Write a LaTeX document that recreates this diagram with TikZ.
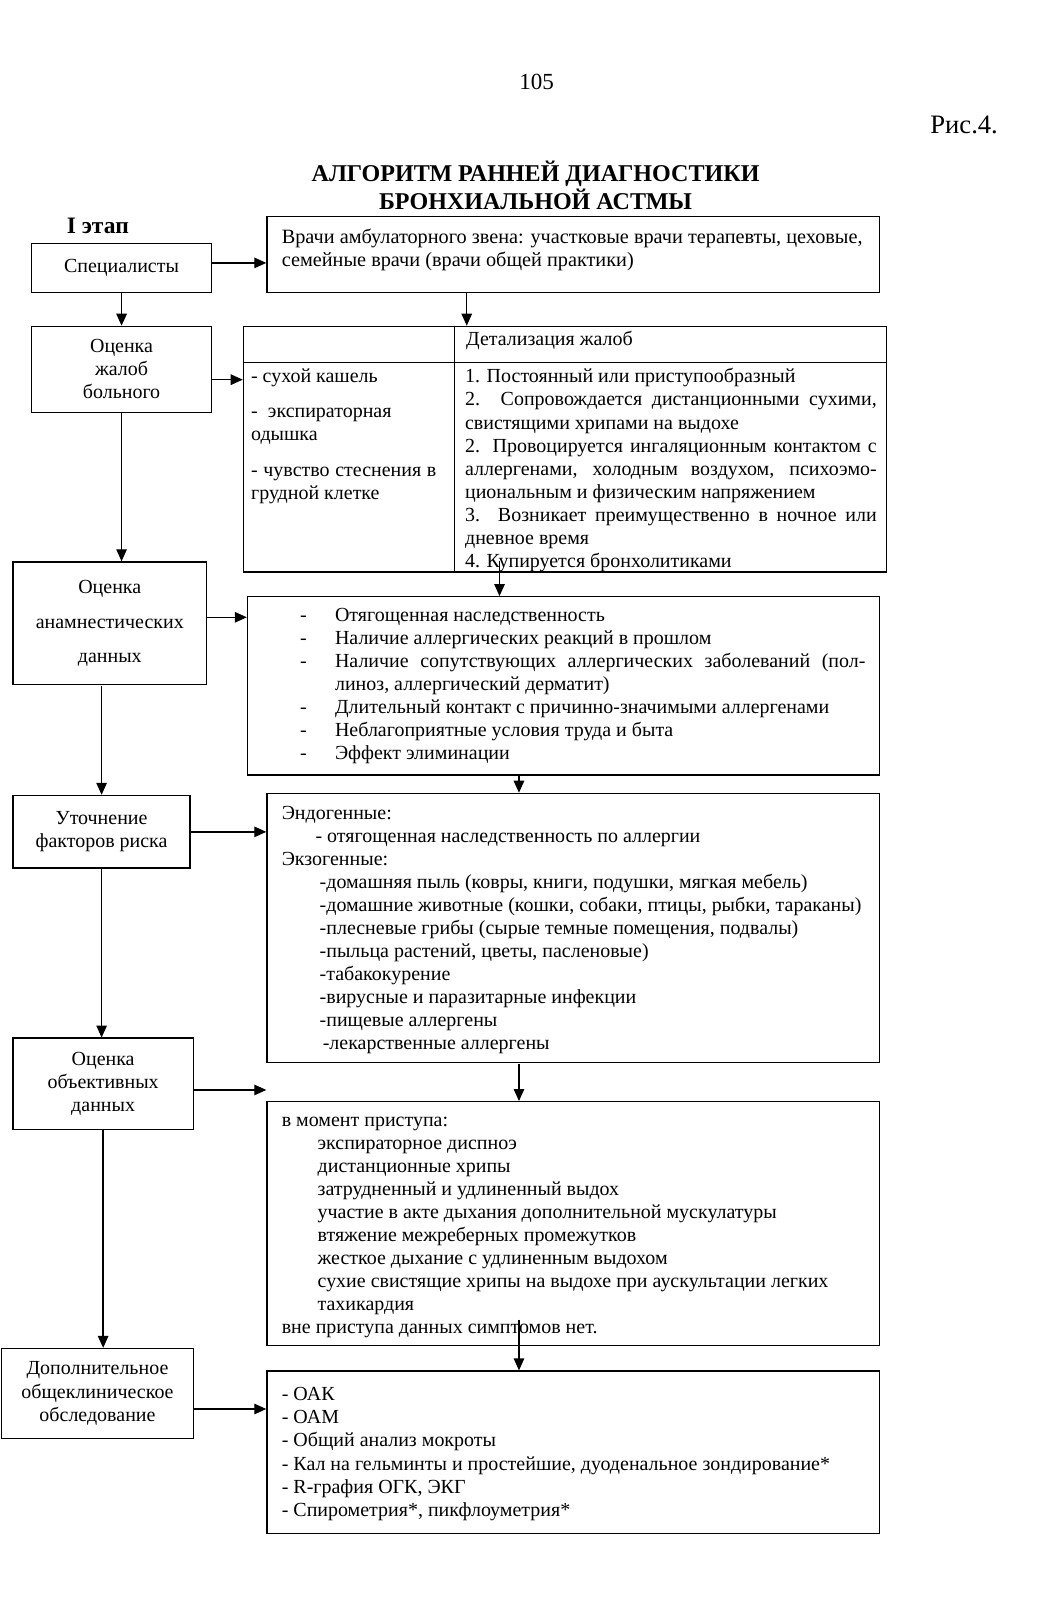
\documentclass[tikz,border=0pt]{standalone}
\usepackage{fontspec}
\setmainfont{Liberation Serif}
\usetikzlibrary{arrows.meta}
\begin{document}
\begin{tikzpicture}[x=1pt,y=-1pt,scale=1.024,every node/.append style={transform shape},
  box/.style={draw, line width=1.4pt, inner sep=0pt, anchor=north west},
  lbox/.style={box, font=\fontsize{19.5}{22.5}\selectfont, align=center},
  txt/.style={font=\fontsize{19.5}{22.5}\selectfont, align=left, anchor=north west, inner sep=0pt},
  arr/.style={line width=1.3pt, -{Triangle[length=12pt,width=10.5pt]}},
  ln/.style={line width=1.3pt}
]
\useasboundingbox (0,0) rectangle (1024.4,1569.3);

% header
\node[font=\fontsize{22.5}{26}\selectfont] (page) at (524,80) {105};
\node[font=\fontsize{26}{30}\selectfont, anchor=east] (fig) at (978,122) {Рис.4.};
\node[font=\fontsize{23.5}{27}\selectfont\bfseries, align=center] (title) at (523,181)
  {АЛГОРИТМ РАННЕЙ ДИАГНОСТИКИ\\БРОНХИАЛЬНОЙ АСТМЫ};
\node[font=\fontsize{23}{26}\selectfont\bfseries, anchor=west, inner sep=0pt] (stage) at (65,221) {I этап};

% left column boxes
\node[lbox, minimum width=176pt, minimum height=48pt] (spec) at (30,237) {Специалисты};
\node[lbox, minimum width=176pt, minimum height=84pt] (zhal) at (30,318) {Оценка\\жалоб\\больного};
\node[lbox, minimum width=189pt, minimum height=120pt] (anam) at (12,548) {Оценка\\[11pt]анамнестических\\[11pt]данных};
\node[lbox, minimum width=173pt, minimum height=71pt] (ut) at (12,776) {Уточнение\\факторов риска};
\node[lbox, minimum width=176pt, minimum height=89pt] (obj) at (12,1013) {Оценка\\объективных\\данных};
\node[lbox, minimum width=187pt, minimum height=88pt] (dop) at (1,1316) {Дополнительное\\общеклиническое\\обследование};

% right column boxes
\node[box, minimum width=598pt, minimum height=74pt] (doc) at (260,211) {};
\node[txt, font=\fontsize{19.8}{22.5}\selectfont] (doctxt) at (275,222) {\strut Врачи амбулаторного звена: участковые врачи терапевты, цеховые,\\семейные врачи (врачи общей практики)};

\node[box, minimum width=628pt, minimum height=240pt] (tbl) at (237,318) {};
\draw[ln] (237,354) -- (865,354);
\draw[ln] (444,318) -- (444,558);
\node[txt] (tblhead) at (455,321) {\strut Детализация жалоб};
\node[txt] (l1) at (245,358) {\strut - сухой кашель};
\node[txt] (l2) at (245,392) {\strut -\hspace{10pt}экспираторная\\одышка};
\node[txt] (l3) at (245,449) {\strut\makebox[181pt][s]{- чувство стеснения в}\\грудной клетке};
\node[txt] (r1) at (454,358) {\strut 1. Постоянный или приступообразный\\
\makebox[402pt][s]{2. Сопровождается дистанционными сухими,}\\
свистящими хрипами на выдохе\\
\makebox[402pt][s]{2. Провоцируется ингаляционным контактом с}\\
\makebox[402pt][s]{аллергенами, холодным воздухом, психоэмо-}\\
циональным и физическим напряжением\\
\makebox[402pt][s]{3. Возникает преимущественно в ночное или}\\
дневное время\\
4. Купируется бронхолитиками};

\node[box, minimum width=617pt, minimum height=174pt] (anamd) at (241,582) {};
\node[txt] (anamtxt) at (293,591) {\strut\makebox[34pt][l]{-}Отягощенная наследственность\\
\makebox[34pt][l]{-}Наличие аллергических реакций в прошлом\\
\makebox[34pt][l]{-}\makebox[518pt][s]{Наличие сопутствующих аллергических заболеваний (пол-}\\
\hspace*{34pt}линоз, аллергический дерматит)\\
\makebox[34pt][l]{-}Длительный контакт с причинно-значимыми аллергенами\\
\makebox[34pt][l]{-}Неблагоприятные условия труда и быта\\
\makebox[34pt][l]{-}Эффект элиминации};

\node[box, minimum width=598pt, minimum height=263pt] (risk) at (260,774) {};
\node[txt] (risktxt) at (275,784) {\strut Эндогенные:\\
\hspace*{33pt}- отягощенная наследственность по аллергии\\
Экзогенные:\\
\hspace*{37pt}-домашняя пыль (ковры, книги, подушки, мягкая мебель)\\
\hspace*{37pt}-домашние животные (кошки, собаки, птицы, рыбки, тараканы)\\
\hspace*{37pt}-плесневые грибы (сырые темные помещения, подвалы)\\
\hspace*{37pt}-пыльца растений, цветы, пасленовые)\\
\hspace*{37pt}-табакокурение\\
\hspace*{37pt}-вирусные и паразитарные инфекции\\
\hspace*{37pt}-пищевые аллергены\\
\hspace*{40pt}-лекарственные аллергены};

\node[box, minimum width=598pt, minimum height=238pt] (objd) at (260,1075) {};
\node[txt] (objtxt) at (275,1084) {\strut в момент приступа:\\
\hspace*{35pt}экспираторное диспноэ\\
\hspace*{35pt}дистанционные хрипы\\
\hspace*{35pt}затрудненный и удлиненный выдох\\
\hspace*{35pt}участие в акте дыхания дополнительной мускулатуры\\
\hspace*{35pt}втяжение межреберных промежутков\\
\hspace*{35pt}жесткое дыхание с удлиненным выдохом\\
\hspace*{35pt}сухие свистящие хрипы на выдохе при аускультации легких\\
\hspace*{35pt}тахикардия\\
вне приступа данных симптомов нет.};

\node[box, minimum width=598pt, minimum height=159pt] (fin) at (260,1338) {};
\node[txt, font=\fontsize{19.5}{22.8}\selectfont] (fintxt) at (275,1351) {\strut - ОАК\\
- ОАМ\\
- Общий анализ мокроты\\
- Кал на гельминты и простейшие, дуоденальное зондирование*\\
- R-графия ОГК, ЭКГ\\
- Спирометрия*, пикфлоуметрия*};

% connectors: horizontal
\draw[arr] ([yshift=5pt]spec.east) -- ([yshift=5pt]spec.east -| doc.west);
\draw[arr] ([yshift=-10pt]zhal.east) -- ([yshift=-10pt]zhal.east -| tbl.west);
\draw[arr] ([yshift=6pt]anam.east) -- ([yshift=6pt]anam.east -| anamd.west);
\draw[arr] (ut.east) -- (ut.east -| risk.west);
\draw[arr] ([yshift=-6pt]obj.east) -- ([yshift=-6pt]obj.east -| objd.west);
\draw[arr] ([yshift=-15pt]dop.east) -- ([yshift=-15pt]dop.east -| fin.west);

% connectors: vertical left
\draw[arr] (spec.south) -- (spec.south |- zhal.north);
\draw[arr] (zhal.south) -- (zhal.south |- anam.north);
\draw[arr] (ut.north |- anam.south) -- (ut.north);
\draw[arr] (ut.south) -- (ut.south |- obj.north);
\draw[arr] (obj.south) -- (obj.south |- dop.north);

% connectors: vertical right
\draw[arr] ([xshift=-104pt]doc.south) -- ([xshift=-104pt]doc.south |- tbl.north);
\draw[arr] ([xshift=-64pt,yshift=12pt]tbl.south) -- ([xshift=-64pt]tbl.south |- anamd.north);
\draw[arr] ([xshift=-53pt]risk.north |- anamd.south) -- ([xshift=-53pt]risk.north);
\draw[arr] ([xshift=-53pt]risk.south) -- ([xshift=-53pt]risk.south |- objd.north);
\draw[arr] ([xshift=-53pt,yshift=26pt]fin.north |- objd.south) -- ([xshift=-53pt]fin.north);
\end{tikzpicture}
\end{document}
